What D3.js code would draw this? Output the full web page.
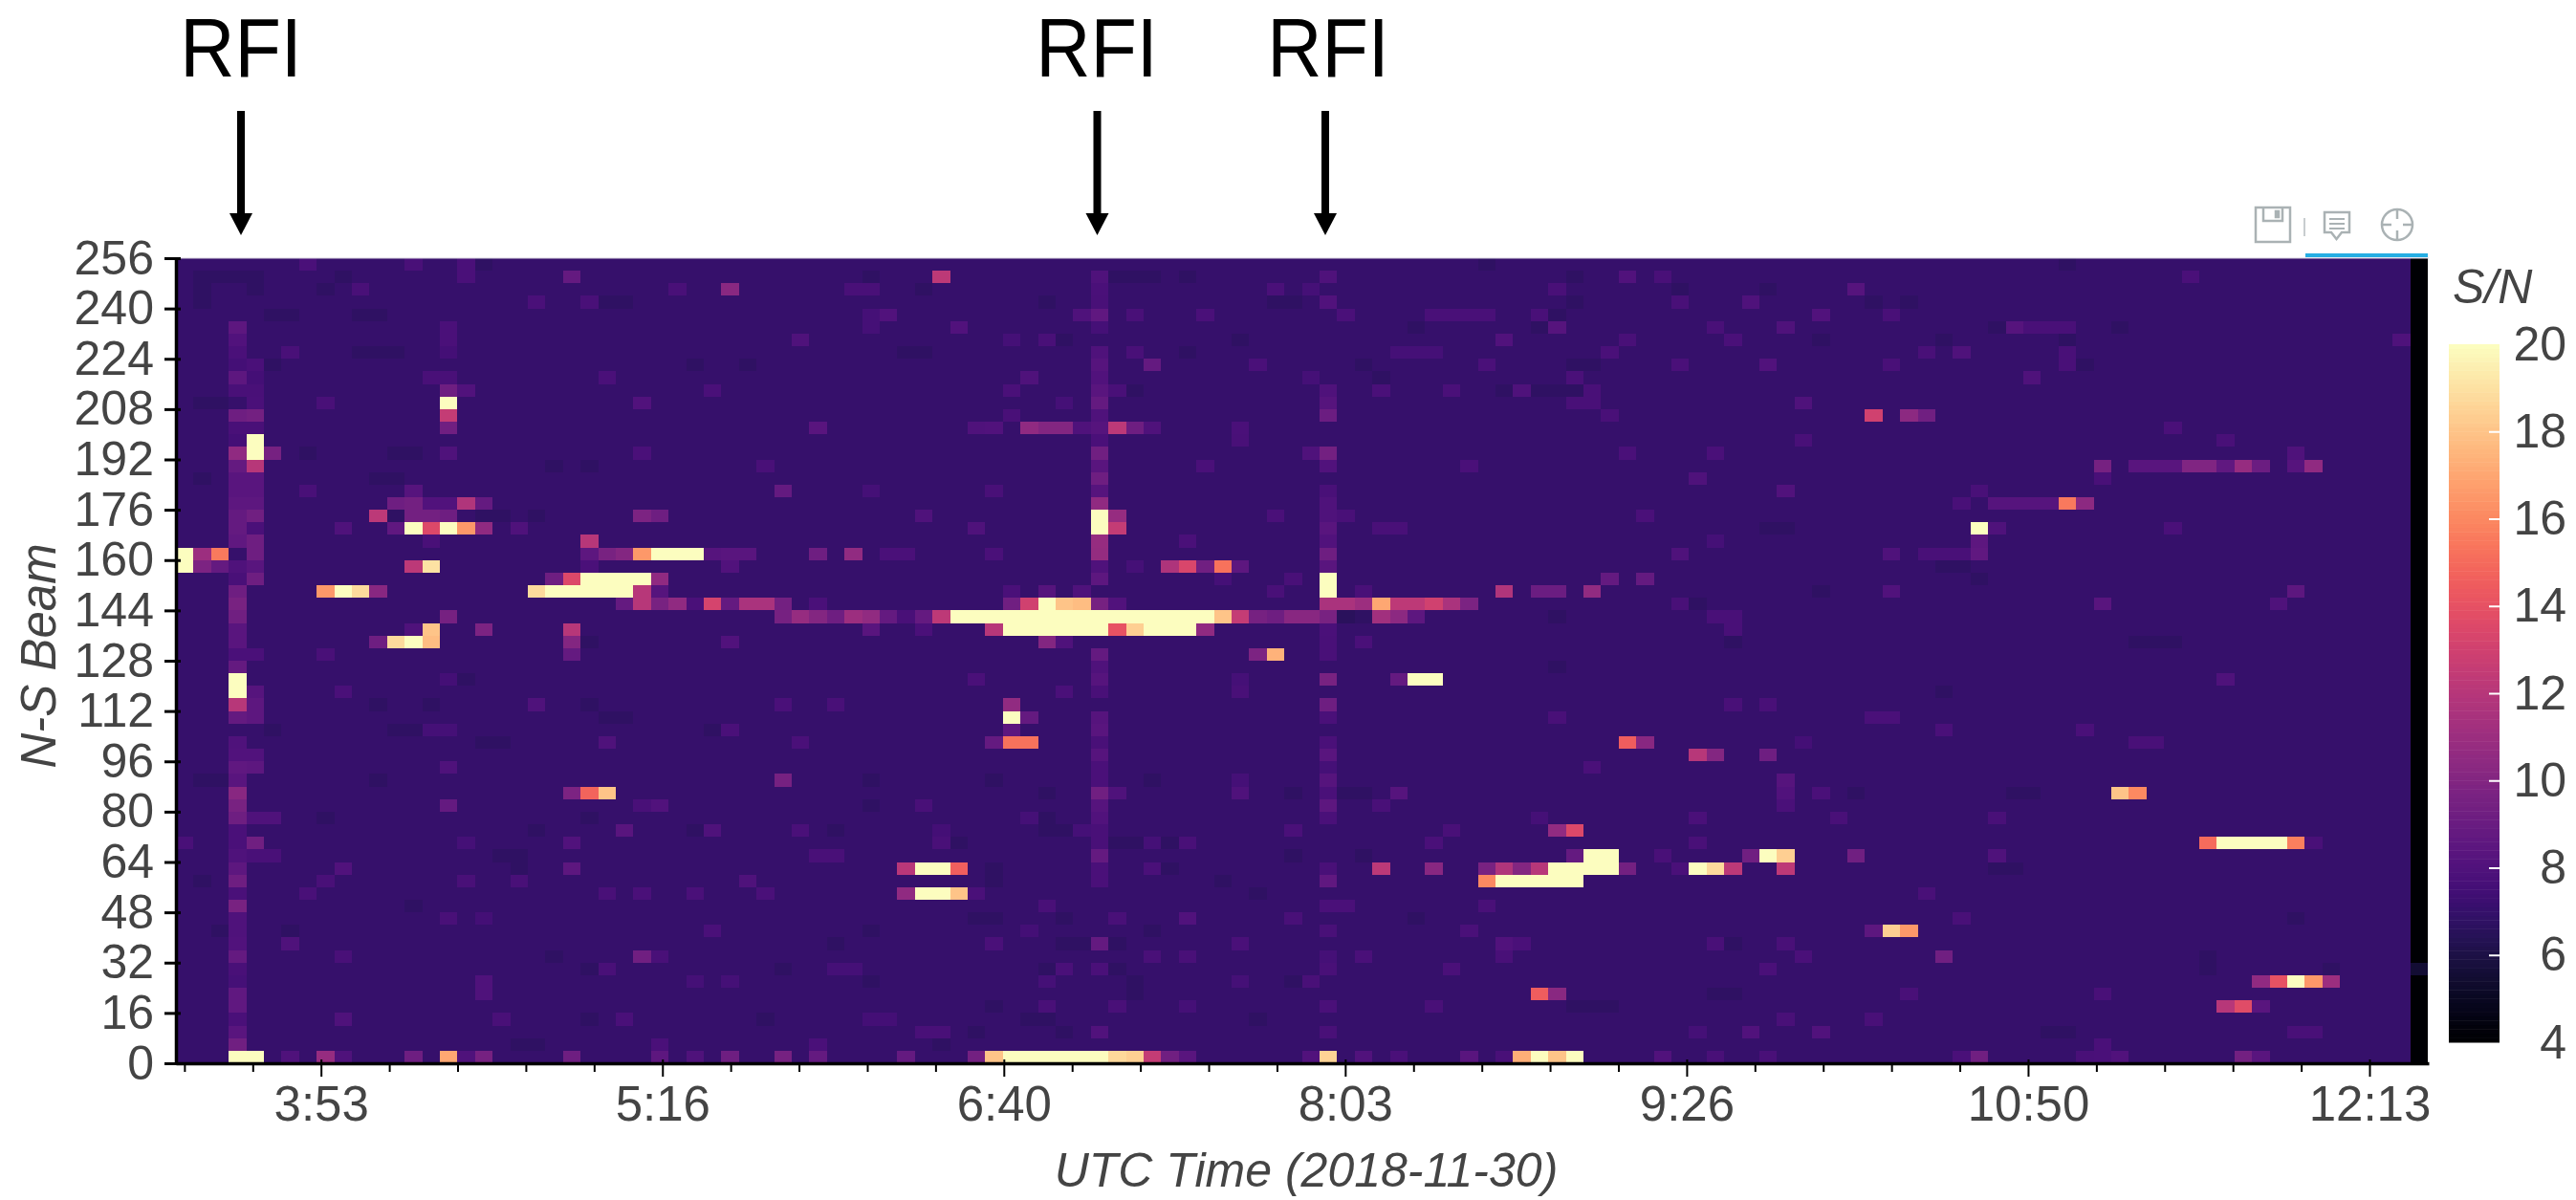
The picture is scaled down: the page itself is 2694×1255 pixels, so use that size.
<!DOCTYPE html>
<html>
<head>
<meta charset="utf-8">
<title>S/N waterfall</title>
<script src="https://cdn.jsdelivr.net/npm/d3@7"></script>
<style>
html, body { margin: 0; background: #fff; }
text { font-family: "Liberation Sans", Arial, sans-serif; fill: #444; }
</style>
</head>
<body>
<script>
"use strict";
// beam ticks, time ticks (minutes since 00:00 UTC), colour bar ticks
const beamTicks = [0, 16, 32, 48, 64, 80, 96, 112, 128, 144, 160, 176, 192, 208, 224, 240, 256];
const timeTicks = [233.33, 316.67, 400, 483.33, 566.67, 650, 733.33];
const minorTimeTicks = [200, 216.67, 250, 266.67, 283.33, 300, 333.33, 350, 366.67, 383.33, 416.67, 433.33, 450, 466.67, 500, 516.67, 533.33, 550, 583.33, 600, 616.67, 633.33, 666.67, 683.33, 700, 716.67];
const snTicks = [4, 6, 8, 10, 12, 14, 16, 18, 20];
const rfiArrows = [252, 1147.5, 1386];
const rfiLabels = [252, 1147, 1389];
const nCols = 128;
const nRows = 64;
const background = 7.0;
const dimValue = 6.8;
const deadColumn = 127;
const deadValues = [[56, 5.5]];
// S/N, one list per row starting at the top row: col, value, col, value...
const rowValues = [
[7,7.8,13,7.7,16,7.8],
[16,7.8,22,8.8,43,12.3,52,7.95,65,7.95,82,8.05,84,7.7,114,7.8],
[10,7.7,28,7.7,31,10.3,38,7.7,39,7.7,52,7.8,62,7.8,64,7.6,78,7.7,95,8.2],
[20,7.8,23,7.7,52,7.7,65,8.05,85,7.7,89,7.95],
[39,7.6,40,8.05,51,7.95,52,8.65,54,7.7,58,7.8,66,7.8,71,7.7,72,7.7,73,7.7,74,7.7,77,7.7,93,8.05,97,7.7],
[3,8.5,15,7.8,39,7.6,44,8.05,52,7.6,78,8.2,87,7.7,91,7.95,104,8.2,105,7.7,106,7.7,107,7.7],
[3,8.05,15,7.8,35,7.95,47,7.6,49,7.7,75,8.05,82,7.7,88,7.8,126,7.95],
[3,7.8,6,7.7,15,7.5,52,7.95,54,7.7,69,7.6,70,7.6,71,7.6,81,7.8,99,7.7,101,7.95,107,7.7],
[3,7.5,4,7.8,52,8.2,55,8.8,61,7.8,74,7.8,85,7.8,90,8.05,97,7.7,107,7.7],
[3,8.5,4,7.5,14,7.7,15,7.7,24,7.8,48,7.95,52,8.05,64,7.6,79,7.8,105,7.95],
[3,7.7,4,7.7,15,9.2,16,8.05,30,7.8,47,7.8,52,8.35,53,7.7,65,7.95,68,7.8,72,7.8,76,7.95,80,7.7],
[4,7.8,8,7.7,15,20,26,8.05,50,7.6,52,8.8,65,8.2,79,7.7,80,7.7,92,7.95],
[3,9.2,4,9.4,15,12.5,47,7.7,52,7.95,65,9.1,81,7.7,96,13,98,10.4,99,9.3],
[3,7.7,4,7.7,15,9.3,36,8.35,45,7.95,46,8.05,48,10.5,49,10,50,10,51,7.95,52,8.2,53,12.2,54,9.2,55,7.95,60,7.8,113,7.8],
[3,7.5,4,20,52,7.8,60,7.7,92,7.7,116,7.7],
[3,10.5,4,20,5,9.5,15,7.95,26,7.8,52,9.3,64,7.95,65,9.4,82,7.8,87,7.8,120,7.95],
[3,8.8,4,12,33,7.7,52,8.35,58,7.8,65,8.05,73,7.8,109,9.5,111,8.35,112,8.35,113,8.35,114,9.9,115,9.9,116,8.65,117,10.8,118,9.1,120,8.2,121,10.5],
[3,8.35,4,8.35,52,9.2,86,7.95,109,7.7],
[3,8.35,4,8.35,7,7.7,13,8.2,34,8.8,39,7.6,46,7.7,52,8.2,65,7.7,91,8.05,102,7.7],
[3,8.5,4,8.5,12,9.2,13,9.4,14,8.05,15,8.05,16,11.8,17,8.8,52,10.5,65,7.95,101,7.7,103,8.2,104,8.2,105,8.2,106,8.2,107,15.5,108,10.4],
[3,8.8,4,9.3,11,12.2,13,9.4,14,9.4,15,9.2,26,9.8,27,9.2,42,7.95,52,20,53,10.8,62,7.8,65,7.95,66,7.7,83,7.8],
[3,8.8,4,7.8,9,7.95,12,8.65,13,20,14,13.5,15,20,16,16.5,17,10.5,19,7.95,45,7.95,52,20,53,12.5,65,8.35,68,7.7,69,7.7,102,20,103,7.95,113,7.8],
[3,8.65,4,9.2,14,7.7,23,12,52,10.8,57,7.8,65,8.05,87,7.6,102,8.5],
[0,20,1,11,2,15.5,4,9.2,23,8.5,24,9.6,25,10,26,16.5,27,20,28,20,29,20,30,8.2,31,8.35,32,8.35,36,9.2,38,10.6,40,7.8,41,7.8,46,7.8,52,10.7,65,9.2,85,7.95,97,7.95,99,7.7,100,7.7,101,7.7,102,8.65],
[0,20,1,9.8,2,8.8,3,7.95,4,8.35,13,12.2,14,19,23,7.8,31,8.05,52,7.95,54,7.6,56,11.7,57,13.4,58,9.3,59,15.3,60,8.5,65,8.35],
[3,7.7,4,9.2,21,9.2,22,13.5,23,20,24,20,25,20,26,20,27,10.5,52,8.5,59,7.6,63,7.7,65,20,81,8.8,83,8.8],
[3,9.2,8,16.5,9,20,10,18.8,11,10.2,20,18.8,21,20,22,20,23,20,24,20,25,20,26,12,27,8.2,47,7.8,49,8.2,51,7.95,62,7.7,65,20,67,7.7,75,11.8,77,9.1,78,9.1,80,10.6,97,8.05,120,8.5],
[3,9.6,25,8.8,26,12,27,9.6,28,10.5,29,7.8,30,13.2,31,8.8,32,11.5,33,11.5,34,9.4,36,7.8,47,9.3,48,13,49,20,50,18,51,17.8,52,9.5,53,8.05,65,11.5,66,11.5,67,11,68,17,69,12.3,70,12.3,71,13,72,11.5,73,9.7,85,7.7,109,8.35,119,7.95],
[3,9.3,15,9.5,34,9.5,35,10.8,36,10,37,9.2,38,11,39,10.6,40,8.8,41,7.7,42,8.8,43,12.3,44,20,45,20,46,20,47,20,48,20,49,20,50,20,51,20,52,20,53,20,54,20,55,20,56,20,57,20,58,20,59,18,60,12.5,61,9.5,62,9.2,63,10.2,64,10.2,65,9.6,66,6.6,67,6.8,68,11.2,69,10.4,70,8.5,87,7.7,88,7.7],
[3,8.35,13,7.95,14,18,17,9.8,22,12,39,8.35,42,7.8,46,12,47,20,48,20,49,20,50,20,51,20,52,20,53,14,54,18.4,55,20,56,20,57,20,58,10.5,65,7.8,88,7.7],
[3,8.35,11,9.2,12,18.8,13,20,14,17.8,22,10,31,8.05,49,10,50,7.95,65,7.7,67,7.8],
[3,7.8,4,7.8,8,7.7,22,8.8,52,8.8,61,9.8,62,17.4,65,7.7],
[3,8.8,52,7.95],
[3,20,15,7.5,45,7.8,52,8.2,60,7.6,65,9.6,69,8.8,70,20,71,20,116,7.95],
[3,20,4,8.2,9,7.8,50,7.8,52,7.7,60,7.7],
[3,12,4,8.5,20,7.95,34,7.8,37,7.7,47,10.6,65,9.2,88,7.7,90,7.7],
[3,8.8,4,8.5,47,20,48,8.8,52,8.2,65,7.8,78,7.7,96,7.8,97,7.8],
[14,7.6,15,7.6,31,7.8,47,8.5,52,8.35,100,7.8,108,7.8],
[3,7.95,24,7.95,35,7.8,46,8.8,47,15.3,48,15.3,52,7.7,65,7.8,82,14.5,83,10.2,92,7.5,111,7.7,112,7.7],
[3,8.05,4,8.05,52,8.2,65,8.35,86,12,87,10,90,9.2],
[3,8.65,4,8.5,15,7.95,52,7.8,65,7.6,80,7.8],
[3,8.35,34,9.5,52,7.8,60,7.6,65,8.2,91,8.2],
[3,10.2,22,9.8,23,14.8,24,18,52,9.3,53,7.95,60,7.95,65,7.8,69,8.2,91,8.05,93,7.8,110,18,111,16],
[3,9.6,15,8.8,26,7.7,27,8.05,42,7.7,52,8.2,65,8.5,68,7.7,91,7.8],
[3,9.2,4,7.95,5,7.95,48,7.6,52,8.05,65,7.8,77,7.6,86,7.8,94,7.7,103,7.7],
[3,7.8,25,8.35,30,7.95,35,7.8,43,7.5,51,7.6,52,7.7,63,7.8,72,7.7,78,10.6,79,13.5],
[0,7.7,3,7.8,4,9.3,16,7.6,22,8.05,43,7.7,52,7.7,55,7.6,57,7.7,71,7.8,86,7.7,115,15,116,20,117,20,118,20,119,20,120,15.7,121,7.7],
[3,7.95,4,7.7,5,7.7,36,7.7,37,7.7,52,8.8,79,8.8,80,20,81,20,84,7.7,89,9.3,90,20,91,18.4,95,9.3,103,7.95],
[3,8.5,9,8.05,22,8.5,41,12.1,42,20,43,20,44,14.6,52,7.8,55,7.8,65,7.7,68,12.2,71,10.2,74,9.6,75,11.8,76,10,77,12,78,20,79,20,80,20,81,20,82,9.4,85,7.8,86,20,87,18.8,88,12.2,91,12.3],
[3,9.2,8,7.7,16,7.7,19,7.7,32,7.95,52,7.8,65,8.65,74,16,75,20,76,20,77,20,78,20,79,20],
[3,7.8,7,7.7,24,7.7,26,7.8,29,7.8,33,7.8,41,10.5,42,20,43,20,44,18,45,7.8,99,7.7],
[3,9.6,49,7.7,65,7.8,66,7.8,74,7.7],
[3,7.95,15,7.7,17,7.5,53,7.7,57,8.05,63,7.7,101,7.7],
[3,7.95,30,7.8,48,7.5,65,7.7,73,7.8,96,8.5,97,18.4,98,16.5],
[3,8.05,6,7.95,46,7.8,52,8.8,60,7.8,75,8.05,76,7.8,87,7.7,91,7.7],
[3,8.8,9,7.7,26,9.3,27,7.7,55,7.7,57,7.7,65,7.6,67,7.8,75,7.7,92,7.8,100,9.3],
[3,7.7,24,7.7,37,7.6,38,7.6,50,7.8,52,7.8,65,7.7,72,7.8,90,7.8],
[3,7.6,17,7.95,29,7.6,31,7.6,49,7.6,60,7.6,64,7.7,118,10.5,119,14,120,20,121,16.5,122,11],
[3,8.65,17,7.95,77,14.5,78,10.3,98,7.7,109,7.7],
[3,8.65,49,7.7,53,7.7,57,7.6,65,7.8,71,7.7,116,12,117,13.7,118,8.35],
[3,7.8,9,7.95,18,7.7,25,7.8,39,7.5,40,7.5,91,7.7,96,7.7],
[3,8.35,42,7.7,43,7.7,52,8.05,65,7.7,86,7.6,89,8.05,93,8.05,120,7.7,121,7.7],
[3,9.3,27,7.8,36,7.8,109,7.8],
[3,20,4,20,6,7.95,8,10.8,9,7.95,13,9.2,15,17,16,7.95,17,9.5,22,9.2,27,8.5,29,7.95,31,9.2,34,9.5,36,8.8,41,8.8,45,9.4,46,18,47,20,48,20,49,20,50,20,51,20,52,20,53,18.7,54,18.4,55,12.5,56,9.3,57,8.35,64,8.05,65,18.5,67,8.05,69,7.8,73,8.35,75,7.7,76,17.3,77,20,78,18,79,20,84,8.05,87,7.7,90,7.7,101,7.8,102,9.3,108,7.7,109,7.8,110,8.05,117,9.4,118,8.35]
];
// cells seen darker than the floor, same row order, columns only
const dimCells = [
[17,74,107],
[1,2,3,4,9,39,53,54,55,57,79],
[1,4,8,42,85,90],
[1,24,25,49,62,63,79,96,98],
[5,6,10,11,78],
[70,77,103,110],
[50,60,93,100,107],
[10,11,12,41,42,57],
[5,29,32,67,79,80,108],
[64,68],
[54,75,77,78,79],
[1,2],
[],
[],
[],
[7,12,13],
[21,23],
[1,11,12],
[],
[],
[12,17,18,20],
[90,91],
[],
[],
[100,101],
[102],
[93],
[86],
[78],
[],
[23,88,111,112,113],
[],
[78],
[16],
[100],
[11,14,23],
[24,25],
[5,12,13,30],
[17,18],
[],
[],
[1,2,11,39,46,55],
[49,63,66,67,95,104,105],
[39],
[8,23,49],
[20,29,37,49,50],
[44,53,54,56],
[18,19,63,67],
[19,46,56,103,104],
[1,46,59],
[61],
[13],
[45,46,50,70,120],
[2,6,39,55],
[37,50,51,52,53,88],
[21,55,67,115],
[23,34,49,53,115,122],
[39,54,63,64],
[54,87,88],
[46,79,80,81],
[23,33,48,49,61],
[45,50,106,107],
[19,20,43],
[]
];

const W = 2694;
const H = 1255;
const plot = { left: 184, right: 2540, top: 270, bottom: 1112 };

const grid = [];
for (let r = 0; r < nRows; r++) {
	const row = new Array(nCols).fill(background);
	dimCells[r].forEach(c => { row[c] = dimValue; });
	for (let i = 0; i < rowValues[r].length; i += 2) row[rowValues[r][i]] = rowValues[r][i + 1];
	row[deadColumn] = 4;
	grid.push(row);
}
deadValues.forEach(d => { grid[d[0]][deadColumn] = d[1]; });
const cells = [];
grid.forEach((row, r) => row.forEach((v, c) => cells.push({ c: c, beam: 252 - 4 * r, v: v })));

const xCol = d3.scaleLinear().domain([0, nCols]).range([plot.left, plot.left + nCols * 18.4]);
const xTime = d3.scaleLinear().domain([197.93, 747.8]).range([plot.left, plot.right]);
const yBeam = d3.scaleLinear().domain([0, 256]).range([plot.bottom, plot.top]);
const color = d3.scaleSequential(d3.interpolateMagma).domain([4, 20]);
const ySn = d3.scaleLinear().domain([4, 20]).range([1090, 360]);

const svg = d3.select("body").append("svg").attr("width", W).attr("height", H).style("display", "block");

// heatmap
svg.append("g").selectAll("rect").data(cells).enter().append("rect")
	.attr("x", d => xCol(d.c))
	.attr("y", d => yBeam(d.beam + 4))
	.attr("width", d => Math.min(xCol(d.c + 1), plot.right) - xCol(d.c))
	.attr("height", d => yBeam(d.beam) - yBeam(d.beam + 4))
	.attr("fill", d => color(d.v))
	.attr("shape-rendering", "crispEdges");
svg.append("line").attr("x1", plot.left).attr("x2", plot.right).attr("y1", plot.top).attr("y2", plot.top)
	.attr("stroke", "#d4cfdd").attr("stroke-width", 1);

// axes
const yAxis = d3.axisLeft(yBeam).tickValues(beamTicks).tickSizeOuter(0).tickSizeInner(12).tickPadding(0);
const gy = svg.append("g").attr("transform", "translate(" + plot.left + ",0)").call(yAxis);
gy.select(".domain").attr("stroke", "#000").attr("stroke-width", 3.5);
gy.selectAll(".tick line").attr("x1", 5).attr("stroke", "#000").attr("stroke-width", 3);
gy.selectAll(".tick text").attr("x", -23).attr("font-size", 50).style("font-family", "'Liberation Sans'").attr("fill", "#444");

const xMinor = d3.axisBottom(xTime).tickValues(minorTimeTicks).tickFormat("").tickSizeOuter(0).tickSizeInner(9);
const gxm = svg.append("g").attr("transform", "translate(0," + plot.bottom + ")").call(xMinor);
gxm.select(".domain").remove();
gxm.selectAll(".tick line").attr("stroke", "#000").attr("stroke-width", 2);

const fmtTime = m => Math.floor(m / 60) + ":" + d3.format("02d")(Math.floor(m % 60));
const xAxis = d3.axisBottom(xTime).tickValues(timeTicks).tickFormat(fmtTime).tickSizeOuter(0).tickSizeInner(14);
const gx = svg.append("g").attr("transform", "translate(0," + plot.bottom + ")").call(xAxis);
gx.select(".domain").attr("stroke", "#000").attr("stroke-width", 3.5);
gx.selectAll(".tick line").attr("y1", -4).attr("stroke", "#000").attr("stroke-width", 2);
gx.selectAll(".tick text").attr("y", 60).attr("dy", 0).attr("font-size", 51).style("font-family", "'Liberation Sans'").attr("fill", "#444");

svg.append("text").attr("transform", "translate(58,686) rotate(-90)").attr("text-anchor", "middle")
	.attr("font-size", 51).attr("font-style", "italic").text("N-S Beam");
svg.append("text").attr("x", 1366).attr("y", 1241).attr("text-anchor", "middle")
	.attr("font-size", 50).attr("font-style", "italic").text("UTC Time (2018-11-30)");

// colour bar
const barSteps = d3.range(4, 20, 0.1);
svg.append("g").selectAll("rect").data(barSteps).enter().append("rect")
	.attr("x", 2561).attr("width", 53)
	.attr("y", d => ySn(d + 0.1))
	.attr("height", d => ySn(d) - ySn(d + 0.1) + 0.5)
	.attr("fill", d => color(d + 0.05));
const snAxis = d3.axisRight(ySn).tickValues(snTicks).tickSizeOuter(0).tickSizeInner(0).tickFormat(d3.format("d"));
const gs = svg.append("g").attr("transform", "translate(2614,0)").call(snAxis);
gs.select(".domain").remove();
gs.selectAll(".tick line").attr("x1", -11).attr("x2", 0).attr("stroke", "#fff").attr("stroke-width", 2)
	.attr("display", d => (d === 4 || d === 20) ? "none" : null);
gs.selectAll(".tick text").attr("x", 70).attr("text-anchor", "end").attr("font-size", 50).style("font-family", "'Liberation Sans'").attr("fill", "#444");
svg.append("text").attr("x", 2565).attr("y", 317).attr("font-size", 50).attr("font-style", "italic").text("S/N");

// RFI markers
svg.append("g").selectAll("text").data(rfiLabels).enter().append("text")
	.attr("transform", d => "translate(" + d + ",80) scale(0.9,1)")
	.attr("text-anchor", "middle")
	.style("fill", "#000").attr("font-size", 88).text("RFI");
const rfi = svg.append("g").selectAll("g").data(rfiArrows).enter().append("g")
	.attr("transform", d => "translate(" + d + ",0)");
rfi.append("rect").attr("x", -4).attr("y", 116).attr("width", 8).attr("height", 108).attr("fill", "#000");
rfi.append("path").attr("d", "M-12,223L12,223L0,246Z").attr("fill", "#000");

// toolbar
const tool = svg.append("g").attr("fill", "none").attr("stroke", "#aab2b4").attr("stroke-width", 2.5);
tool.append("rect").attr("x", 2359).attr("y", 217).attr("width", 36).attr("height", 36);
tool.append("path").attr("d", "M2367,217V231H2387V217");
tool.append("rect").attr("x", 2380).attr("y", 221).attr("width", 3).attr("height", 6).attr("fill", "#aab2b4");
tool.append("line").attr("x1", 2410).attr("x2", 2410).attr("y1", 228).attr("y2", 247).attr("stroke-width", 2).attr("stroke", "#c8cdcf");
tool.append("path").attr("d", "M2431,222H2457V243H2449L2443.5,250L2438,243H2431Z");
tool.append("path").attr("d", "M2436,229H2452M2436,234H2452M2436,239H2452").attr("stroke-width", 2);
tool.append("circle").attr("cx", 2507).attr("cy", 235).attr("r", 16);
tool.append("path").attr("d", "M2491,235H2501M2513,235H2523M2507,219V229M2507,241V251").attr("stroke-width", 2.5);
svg.append("rect").attr("x", 2411).attr("y", 265).attr("width", 128).attr("height", 4).attr("fill", "#26aee3");
</script>
</body>
</html>
